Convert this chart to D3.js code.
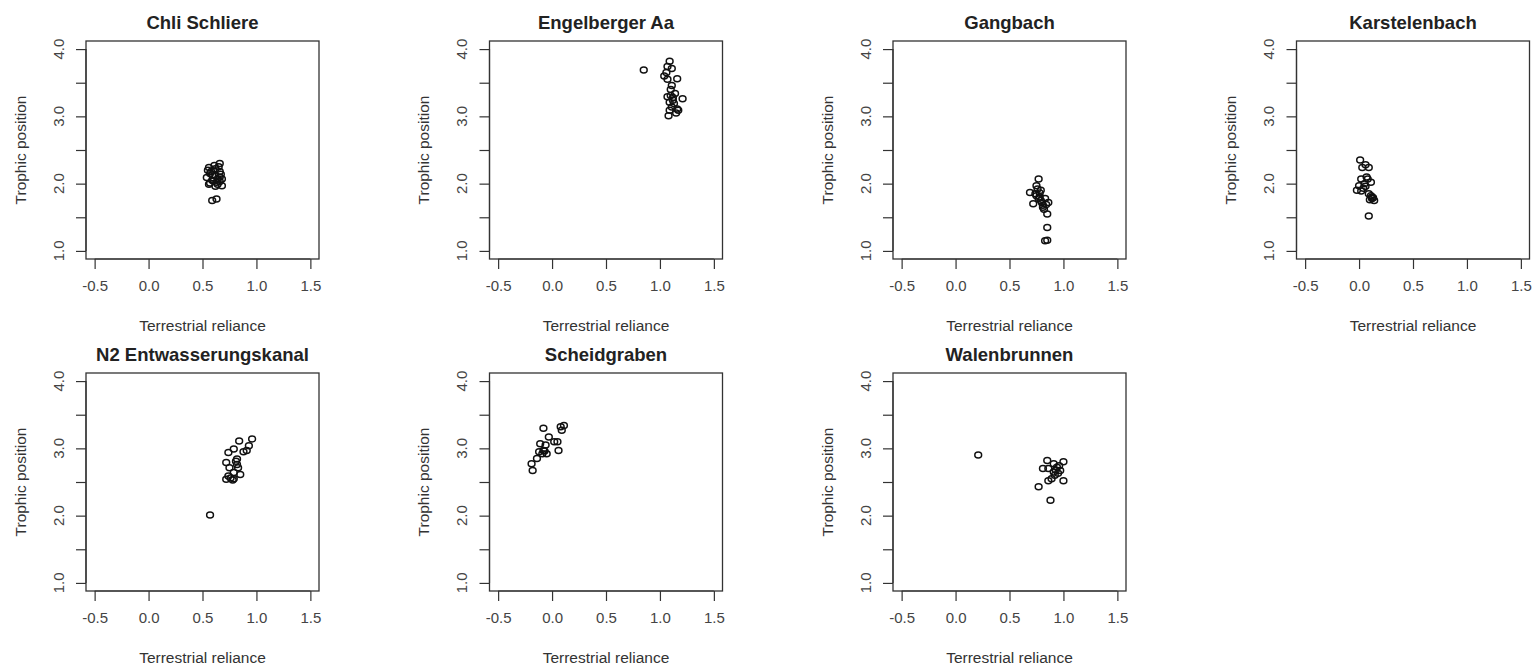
<!DOCTYPE html>
<html>
<head>
<meta charset="utf-8">
<script src="https://cdn.jsdelivr.net/npm/d3@7"></script>
<style>
  html, body { margin: 0; padding: 0; background: #fff; }
  svg { display: block; }
  text { font-family: "Liberation Sans", Arial, sans-serif; }
</style>
</head>
<body>
<svg id="chart" width="1535" height="670"></svg>
<script>
// ---- Data ----
const siteNames = ["Chli Schliere", "Engelberger Aa", "Gangbach", "Karstelenbach",
                   "N2 Entwasserungskanal", "Scheidgraben", "Walenbrunnen"];

const chliX = [0.56,0.59,0.62,0.66,0.66,0.54,0.59,0.66,0.68,0.56,0.60,0.64,0.68,0.58,0.62,0.65,0.57,0.63,0.59,0.63,0.55,0.61,0.67,0.64,0.57,0.60,0.66,0.62];
const chliY = [2.24,2.13,2.22,2.30,2.18,2.09,2.05,2.10,2.07,1.99,2.04,1.99,1.97,2.18,2.12,2.25,2.15,2.02,1.75,1.77,2.20,2.27,2.14,2.06,2.01,2.19,2.03,1.96];

const engelX = [0.85,1.09,1.07,1.11,1.04,1.07,1.16,1.11,1.21,1.10,1.14,1.07,1.13,1.16,1.09,1.11,1.08,1.17,1.12,1.10,1.12,1.09,1.15,1.06];
const engelY = [3.69,3.82,3.74,3.71,3.60,3.55,3.56,3.46,3.26,3.31,3.34,3.29,3.19,3.11,3.09,3.14,3.01,3.09,3.24,3.40,3.28,3.21,3.05,3.65];

const gangX = [0.77,0.75,0.69,0.74,0.78,0.72,0.80,0.86,0.81,0.85,0.77,0.83,0.85,0.85,0.83,0.79,0.76,0.81,0.79,0.82,0.75,0.84,0.78];
const gangY = [2.07,1.97,1.87,1.85,1.80,1.70,1.72,1.72,1.65,1.55,1.78,1.78,1.35,1.16,1.15,1.90,1.92,1.68,1.75,1.62,1.82,1.69,1.86];

const karstX = [0.01,0.06,0.09,0.03,0.02,0.08,0.11,0.05,-0.02,0.02,0.09,0.12,0.10,0.14,0.09,0.06,0.00,0.12,0.11,0.07,0.13,0.04];
const karstY = [2.35,2.28,2.24,2.24,2.07,2.07,2.02,2.00,1.90,1.89,1.85,1.80,1.76,1.75,1.52,1.96,1.97,1.78,1.82,2.10,1.79,1.93];

const n2X = [0.57,0.96,0.84,0.93,0.88,0.79,0.74,0.82,0.72,0.75,0.83,0.79,0.74,0.72,0.79,0.85,0.82,0.91,0.81,0.76,0.78];
const n2Y = [2.01,3.14,3.11,3.04,2.95,2.99,2.94,2.84,2.79,2.71,2.71,2.64,2.59,2.54,2.55,2.61,2.76,2.97,2.81,2.56,2.53];

const scheidX = [-0.08,-0.18,-0.19,-0.14,-0.09,-0.08,-0.05,-0.11,-0.03,0.02,0.06,0.05,0.08,0.11,0.09,-0.06,-0.12,-0.07];
const scheidY = [3.30,2.67,2.77,2.85,2.92,2.97,2.92,3.07,3.17,3.10,2.97,3.10,3.32,3.34,3.27,3.05,2.95,2.96];

const walenX = [0.21,0.88,0.77,0.85,1.00,0.86,0.91,0.94,0.95,1.00,0.86,0.81,0.91,0.97,0.92,0.89,0.93,0.96];
const walenY = [2.90,2.23,2.43,2.82,2.80,2.70,2.65,2.72,2.63,2.52,2.52,2.70,2.77,2.67,2.60,2.55,2.68,2.74];

const xTickValues = [-0.5, 0.0, 0.5, 1.0, 1.5];
const yTickValues = [1.0, 1.5, 2.0, 2.5, 3.0, 3.5, 4.0];
const yLabelValues = [1.0, 2.0, 3.0, 4.0];
const xLabel = "Terrestrial reliance";
const yLabel = "Trophic position";

const seriesX = [chliX, engelX, gangX, karstX, n2X, scheidX, walenX];
const seriesY = [chliY, engelY, gangY, karstY, n2Y, scheidY, walenY];

// ---- Layout ----
const boxW = 233, boxH = 218;
const colLeft = c => 86 + c * 403.5;
const rowTop = r => 41 + r * 332;

const svg = d3.select("#chart");
svg.append("rect").attr("width", 1535).attr("height", 670).attr("fill", "#fff");

siteNames.forEach((name, i) => {
  const col = i % 4, row = Math.floor(i / 4);
  const L = colLeft(col), T = rowTop(row);
  const x = d3.scaleLinear().domain([-0.58, 1.58]).range([L, L + boxW]);
  const y = d3.scaleLinear().domain([0.88, 4.12]).range([T + boxH, T]);
  const g = svg.append("g");

  // x axis
  const gx = g.append("g").attr("transform", `translate(0,${T + boxH})`)
    .call(d3.axisBottom(x).tickValues(xTickValues).tickSize(10).tickPadding(11)
      .tickFormat(d3.format(".1f")));
  gx.select(".domain").attr("stroke", "#333").attr("stroke-width", 1.2)
    .attr("d", `M${x(-0.5)},0H${x(1.5)}`);
  gx.selectAll(".tick line").attr("stroke", "#333").attr("stroke-width", 1.2);
  gx.selectAll(".tick text").attr("fill", "#444").attr("font-size", 15)
    .attr("font-family", "Liberation Sans, Arial, sans-serif")
    .text(d => d3.format(".1f")(d).replace("−", "-"));

  // y axis
  const gy = g.append("g").attr("transform", `translate(${L},0)`)
    .call(d3.axisLeft(y).tickValues(yTickValues).tickSize(10).tickFormat(""));
  gy.select(".domain").attr("stroke", "#333").attr("stroke-width", 1.2)
    .attr("d", `M0,${y(1)}V${y(4)}`);
  gy.selectAll(".tick line").attr("stroke", "#333").attr("stroke-width", 1.2);
  g.selectAll(".ylab").data(yLabelValues).enter().append("text")
    .attr("transform", d => `translate(${L - 28},${y(d)}) rotate(-90)`)
    .attr("text-anchor", "middle").attr("dominant-baseline", "central")
    .attr("fill", "#444").attr("font-size", 15)
    .text(d => d3.format(".1f")(d));

  // box
  g.append("rect").attr("x", L).attr("y", T).attr("width", boxW).attr("height", boxH)
    .attr("fill", "none").attr("stroke", "#333").attr("stroke-width", 1.3);

  // title
  g.append("text").attr("x", L + boxW / 2).attr("y", T - 19)
    .attr("text-anchor", "middle").attr("dominant-baseline", "central")
    .attr("font-size", 18.5).attr("font-weight", "bold").attr("fill", "#222")
    .text(name);

  // axis titles
  g.append("text").attr("x", L + boxW / 2).attr("y", T + boxH + 66)
    .attr("text-anchor", "middle").attr("dominant-baseline", "central")
    .attr("font-size", 15.5).attr("fill", "#333").text(xLabel);
  g.append("text").attr("transform", `translate(${L - 66},${T + boxH / 2}) rotate(-90)`)
    .attr("text-anchor", "middle").attr("dominant-baseline", "central")
    .attr("font-size", 15.5).attr("fill", "#333").text(yLabel);

  // points
  const pts = seriesX[i].map((v, k) => ({ x: v, y: seriesY[i][k] }));
  g.selectAll("ellipse.pt").data(pts).enter().append("ellipse")
    .attr("class", "pt")
    .attr("cx", d => x(d.x)).attr("cy", d => y(d.y)).attr("rx", 3.4).attr("ry", 3)
    .attr("fill", "none").attr("stroke", "#111").attr("stroke-width", 1.5);
});
</script>
</body>
</html>
